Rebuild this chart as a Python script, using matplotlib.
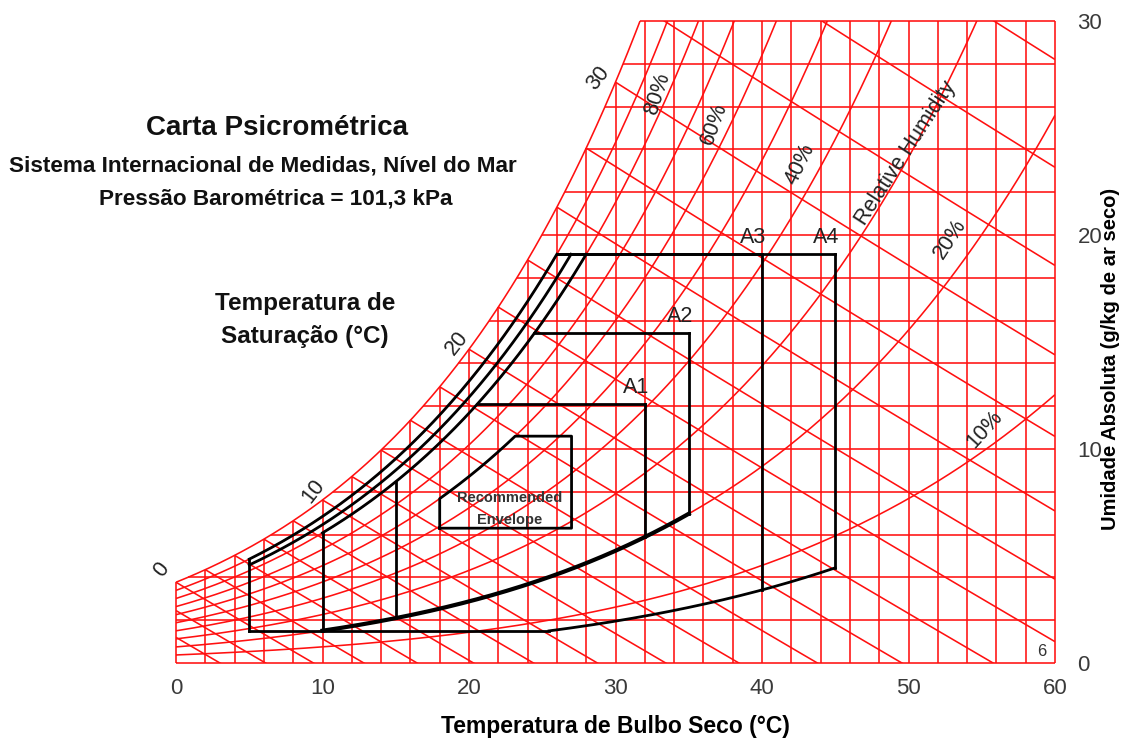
import numpy as np
import matplotlib
matplotlib.use('Agg')
import matplotlib.pyplot as plt
from matplotlib.patches import Rectangle

# chart scales
t_ticks = [0, 10, 20, 30, 40, 50, 60]
w_ticks = [0, 10, 20, 30]
t_grid = np.arange(0, 61, 2)          # dry bulb lines, °C
w_grid = np.arange(0, 31, 2)          # humidity ratio lines, g/kg
rh_curves = [10, 20, 30, 40, 50, 60, 70, 80, 90]
wb_lines = np.arange(-6, 37, 2)       # wet bulb lines, °C
wb_labels = [0, 10, 20, 30]

# ASHRAE classes
env_names = ['A1', 'A2', 'A3', 'A4']
env_tmin = [15, 10, 5, 5]
env_tmax = [32, 35, 40, 45]
env_wmax = [12.1, 15.4, 19.1, 19.1]
env_rhmax = [80, 80, 85, 90]
w_dew_low = 1.5          # -12 °C dew point
rh_low_a12 = 20
rh_low_a34 = 7.5
rec_t = [18, 27]
rec_w = [6.3, 10.6]
rec_rh = 60

P_ATM = 101.325


def p_sat(t):
    return 0.61094 * np.exp(17.625 * t / (t + 243.04))


def w_rh(t, rh):
    pv = rh / 100.0 * p_sat(t)
    return 622.0 * pv / (P_ATM - pv)


T_FINE = np.linspace(-30, 90, 24001)


def t_at_w(w, rh=100):
    return np.interp(w, w_rh(T_FINE, rh), T_FINE)


def w_wetbulb(t, tw):
    ws = w_rh(tw, 100) / 1000.0
    w = ((2501 - 2.326 * tw) * ws - 1.006 * (t - tw)) / (2501 + 1.86 * t - 4.186 * tw)
    return 1000.0 * w


plt.rcParams['font.family'] = ['Liberation Sans', 'DejaVu Sans']

# pixel frame of the chart: 0..60 °C and 0..30 g/kg
W, H = 1130, 738
X0, X60, Y0, Y30 = 176, 1055, 663, 21
px_t = (X60 - X0) / 60.0
px_w = (Y0 - Y30) / 30.0
mx, my = 0.4, 0.3
left = (X0 - mx * px_t) / W
bottom = (H - Y0 - my * px_w) / H
aw = (60 + 2 * mx) * px_t / W
ah = (30 + 2 * my) * px_w / H

fig = plt.figure(figsize=(W / 100, H / 100), dpi=100)
ax = fig.add_axes([left, bottom, aw, ah])
ax.set_xlim(-mx, 60 + mx)
ax.set_ylim(-my, 30 + my)
for s in ax.spines.values():
    s.set_visible(False)

clip = Rectangle((0, 0), 60, 30, transform=ax.transData, fill=False, visible=False)
ax.add_patch(clip)

RED = '#ff1010'
rlw = 1.15


def red(x, y, border=False):
    ln, = ax.plot(x, y, color=RED, lw=rlw, solid_capstyle='butt')
    if not border:
        ln.set_clip_path(clip)


w_sat0 = w_rh(0, 100)
t_top = t_at_w(30)

# saturation curve and outer frame
ts = np.linspace(0, t_top, 300)
red(ts, w_rh(ts, 100), border=True)
red([0, 0], [0, w_sat0], border=True)
red([0, 60], [0, 0], border=True)
red([60, 60], [0, 30], border=True)
red([t_top, 60], [30, 30], border=True)

# dry bulb lines
for t in t_grid[1:-1]:
    red([t, t], [0, min(w_rh(t, 100), 30)])

# humidity ratio lines
for w in w_grid[1:-1]:
    red([max(t_at_w(w), 0), 60], [w, w])

# relative humidity curves
tr = np.linspace(0, 60, 400)
for rh in rh_curves:
    red(tr, w_rh(tr, rh))

# wet bulb lines
for tw in wb_lines:
    tt = np.linspace(max(tw, 0), 60, 300)
    ww = w_wetbulb(tt, tw)
    keep = ww >= -0.5
    red(tt[keep], ww[keep])

# envelopes
K = 'black'
lw = 2.0


def curve(rh, t1, t2):
    t = np.linspace(t1, t2, 200)
    return t, w_rh(t, rh)


for rh, tstart in zip([80, 85, 90], [10, 5, 5]):
    t, w = curve(rh, tstart, t_at_w(19.1, rh))
    ax.plot(t, w, color=K, lw=lw)

t, w = curve(rh_low_a12, 10, 35)
ax.plot(t, w, color=K, lw=3.0)

t_low = t_at_w(w_dew_low, rh_low_a34)
ax.plot([5, t_low], [w_dew_low, w_dew_low], color=K, lw=lw)
t, w = curve(rh_low_a34, t_low, 45)
ax.plot(t, w, color=K, lw=lw)

for name, t1, t2, wmax, rh in zip(env_names, env_tmin, env_tmax, env_wmax, env_rhmax):
    if name in ('A1', 'A2'):
        wb1 = max(w_rh(t1, rh_low_a12), w_dew_low)
        wb2 = w_rh(t2, rh_low_a12)
    else:
        wb1 = w_dew_low
        wb2 = w_rh(t2, rh_low_a34)
    rh_top = rh if name in ('A1', 'A2') else 90
    if name != 'A4':
        ax.plot([t1, t1], [wb1, w_rh(t1, rh_top)], color=K, lw=lw)
    ax.plot([t_at_w(wmax, rh_top), t2], [wmax, wmax], color=K, lw=lw)
    ax.plot([t2, t2], [wmax, wb2], color=K, lw=lw)
    ax.text(t2 - 0.6, wmax + 0.3, name, fontsize=15.5, color='#222222',
            ha='center', va='bottom')

# recommended envelope
t60 = t_at_w(rec_w[1], rec_rh)
t, w = curve(rec_rh, rec_t[0], t60)
rx = np.concatenate([[rec_t[0]], t, [rec_t[1], rec_t[1], rec_t[0]]])
ry = np.concatenate([[rec_w[0]], w, [rec_w[1], rec_w[0], rec_w[0]]])
ax.plot(rx, ry, color=K, lw=lw)
ax.text(22.8, 7.2, 'Recommended\nEnvelope', fontsize=10.5, fontweight='bold',
        color='#333333', ha='center', va='center', linespacing=1.75)

# labels on the chart
lab = dict(color='#222222', ha='center', va='center', fontsize=15.5)
for tw, (dt, dw) in zip(wb_labels, [(-1.0, 0.6), (-0.6, 0.4), (-0.8, 0.3), (-1.2, 0.2)]):
    ax.text(tw + dt, w_rh(tw, 100) + dw, str(tw), rotation=52, **lab)
ax.text(32.9, 26.6, '80%', rotation=72, **lab)
ax.text(36.7, 25.2, '60%', rotation=70, **lab)
ax.text(42.6, 23.3, '40%', rotation=64, **lab)
ax.text(49.8, 23.8, 'Relative Humidity', rotation=57, **lab)
ax.text(52.8, 19.8, '20%', rotation=57, **lab)
ax.text(55.2, 10.9, '10%', rotation=48, **lab)
ax.text(59.1, 0.55, '6', fontsize=12, color='#333333', ha='center', va='center')

# axes ticks
ax.set_xticks(t_ticks)
ax.set_xticklabels([str(v) for v in t_ticks])
ax.yaxis.tick_right()
ax.set_yticks(w_ticks)
ax.set_yticklabels([str(v) for v in w_ticks])
ax.tick_params(length=0, labelsize=16, labelcolor='#3a3a3a')
ax.tick_params(axis='x', pad=6)
ax.tick_params(axis='y', pad=12)
ax.set_xlabel('Temperatura de Bulbo Seco (°C)', fontsize=16.5,
              fontweight='bold', labelpad=12)
fig.text(1110 / W, 1 - 359 / H, 'Umidade Absoluta (g/kg de ar seco)', fontsize=14.5,
         fontweight='bold', rotation=90, ha='center', va='center')

# headings
fig.text(277 / W, 1 - 128 / H, 'Carta Psicrométrica', fontsize=20,
         fontweight='bold', ha='center', va='center', color='#111111')
fig.text(263 / W, 1 - 166 / H, 'Sistema Internacional de Medidas, Nível do Mar',
         fontsize=16.2, fontweight='bold', ha='center', va='center', color='#111111')
fig.text(276 / W, 1 - 199 / H, 'Pressão Barométrica = 101,3 kPa',
         fontsize=16.2, fontweight='bold', ha='center', va='center', color='#111111')
fig.text(305 / W, 1 - 320 / H, 'Temperatura de\nSaturação (°C)', fontsize=17.5,
         fontweight='bold', ha='center', va='center', color='#111111', linespacing=1.55)

fig.savefig('out.png', dpi=100, facecolor='white')
